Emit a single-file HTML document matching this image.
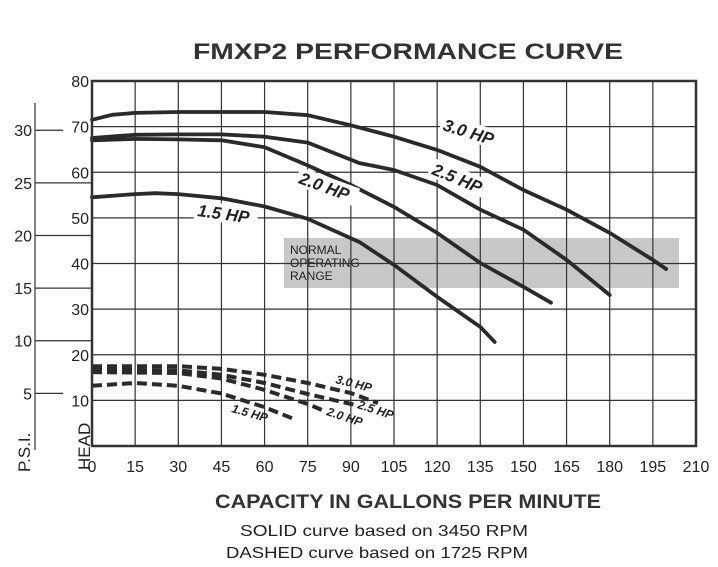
<!DOCTYPE html>
<html><head><meta charset="utf-8"><style>
html,body{margin:0;padding:0;background:#fff;}
svg{display:block;font-family:"Liberation Sans",sans-serif;}
</style></head><body>
<svg id="chart" width="718" height="567" viewBox="0 0 718 567">
<rect width="718" height="567" fill="#fff"/>
<text x="193" y="59" font-size="22" font-weight="bold" fill="#333" textLength="430" lengthAdjust="spacingAndGlyphs">FMXP2 PERFORMANCE CURVE</text>
<g id="grid"></g>
<rect x="284" y="238" width="395" height="50" fill="#c8c8c8"/>
<text font-size="12" fill="#222"><tspan x="290" y="254">NORMAL</tspan><tspan x="290" y="267">OPERATING</tspan><tspan x="290" y="280">RANGE</tspan></text>
<g id="gridlines"></g>
<g id="series"></g>
<g id="labels" font-weight="bold" font-style="italic" fill="#222"></g>
<g id="axes"></g>
<text x="215" y="508" font-size="19" font-weight="bold" fill="#333" textLength="386" lengthAdjust="spacingAndGlyphs">CAPACITY IN GALLONS PER MINUTE</text>
<text x="240" y="536" font-size="16" fill="#222" textLength="288" lengthAdjust="spacingAndGlyphs">SOLID curve based on 3450 RPM</text>
<text x="226" y="558" font-size="16" fill="#222" textLength="302" lengthAdjust="spacingAndGlyphs">DASHED  curve based on 1725 RPM</text>
<text transform="translate(90,470) rotate(-90)" font-size="17" fill="#222">HEAD</text>
<text transform="translate(30,472) rotate(-90)" font-size="17" fill="#222">P.S.I.</text>
</svg>
<script>
const xTicks=[0,15,30,45,60,75,90,105,120,135,150,165,180,195,210];
const yTicks=[10,20,30,40,50,60,70,80];
const psiTicks=[5,10,15,20,25,30];
const gpm30=[0,7,15,30,45,60,75,90,105,120,135,150,165,180,195,199.6];
const head30=[71.5,72.6,73,73.2,73.2,73.2,72.5,70.3,67.8,64.9,61.2,56.1,51.8,46.7,40.8,38.8];
const gpm25=[0,15,30,45,60,75,93,105,120,135,150,165,180];
const head25=[67.5,68.2,68.3,68.3,67.8,66.5,62,60.5,57.2,51.8,47.4,40.8,33.1];
const gpm20=[0,15,30,45,60,75,90,105,120,135,150,159.6];
const head20=[67,67.3,67.2,67,65.5,61.5,57.2,52.4,46.7,40.1,34.9,31.4];
const gpm15=[0,15,22,30,45,60,75,93,105,120,135,140];
const head15=[54.5,55.2,55.4,55.2,54.3,52.5,49.8,44.7,39.7,32.7,26.1,22.8];
const dGpm30=[0,30,45,60,75,90,99.4];
const dHead30=[17.5,17.5,16.9,15.6,13.8,11.6,9.4];
const dGpm25=[0,30,45,60,75,91.5];
const dHead25=[16.7,16.6,15.6,13.8,11.4,9.0];
const dGpm20=[0,30,45,60,75,80];
const dHead20=[16.2,16,14.8,12.3,9.2,7.9];
const dGpm15=[0,15,30,45,60,69.5];
const dHead15=[13.2,13.8,13.2,11.5,8.5,6.1];

const X0=92,X1=696,Y0=446,Y1=81;
const xs=v=>X0+(v/210)*(X1-X0);
const ys=v=>Y0-(v/80)*(Y0-Y1);
const ps=v=>Y0-(v*2.31/80)*(Y0-Y1)+ (v===0?0:0);
const NS='http://www.w3.org/2000/svg';
function mk(tag,attrs,parent){const e=document.createElementNS(NS,tag);for(const k in attrs)e.setAttribute(k,attrs[k]);parent.appendChild(e);return e;}
const gl=document.getElementById('gridlines'),ax=document.getElementById('axes'),se=document.getElementById('series'),lb=document.getElementById('labels');
xTicks.forEach(t=>{
 const l=mk('line',{x1:xs(t),x2:xs(t),y1:Y1,y2:Y0,stroke:'#333','stroke-width':1.2},gl);
 
 
 const tx=mk('text',{x:xs(t),y:472,'font-size':16,'text-anchor':'middle',fill:'#222'},ax);
 tx.textContent=t;
 
 
});
yTicks.forEach(t=>{
 const l=mk('line',{x1:X0,x2:X1,y1:ys(t),y2:ys(t),stroke:'#333','stroke-width':1.2},gl);
 
 
 const tx=mk('text',{x:89,y:ys(t)+6,'font-size':16,'text-anchor':'end',fill:'#222'},ax);
 tx.textContent=t;
 
 
});
const tx0=mk('text',{x:92,y:472,'font-size':16,'text-anchor':'middle',fill:'#222'},ax);
const fr=mk('rect',{x:X0,y:Y1,width:X1-X0,height:Y0-Y1,fill:'none',stroke:'#333','stroke-width':2.5},ax);


const pl=mk('line',{x1:35,x2:35,y1:103,y2:450,stroke:'#333','stroke-width':1.2},ax);


psiTicks.forEach(t=>{
 const y=Y0-(t*2.307/80)*(Y0-Y1);
 const long=(t>=10&&t<=25);
 const l=mk('line',{x1:35,x2:long?X0:63,y1:y,y2:y,stroke:'#333','stroke-width':1.2},ax);
 
 
 const tx=mk('text',{x:32,y:y+6,'font-size':16,'text-anchor':'end',fill:'#222'},ax);
 tx.textContent=t;
 
 
});
function curve(g,h,name,dashed){
 const pts=g.map((v,i)=>xs(v).toFixed(1)+','+ys(h[i]).toFixed(1)).join(' ');
 const p=mk('polyline',{points:pts,fill:'none',stroke:'#2a2a2a','stroke-width':dashed?4:3.8,'stroke-linejoin':'round','stroke-linecap':dashed?'butt':'round'},se);
 if(dashed)p.setAttribute('stroke-dasharray','10 5');
 
 
}
curve(gpm30,head30,'curve-3hp-3450',false);
curve(gpm25,head25,'curve-2-5hp-3450',false);
curve(gpm20,head20,'curve-2hp-3450',false);
curve(gpm15,head15,'curve-1-5hp-3450',false);
curve(dGpm30,dHead30,'curve-3hp-1725',true);
curve(dGpm25,dHead25,'curve-2-5hp-1725',true);
curve(dGpm20,dHead20,'curve-2hp-1725',true);
curve(dGpm15,dHead15,'curve-1-5hp-1725',true);
function label(txt,x,y,rot,size,name,bg){
 const g=mk('g',{transform:`translate(${x},${y}) rotate(${rot})`},lb);
 if(bg)mk('rect',{x:-3,y:-size+1,width:txt.length*size*0.62,height:size+2,fill:'#fff'},g);
 const t=mk('text',{x:0,y:0,'font-size':size},g);
 t.textContent=txt;
 
 
}
label('3.0 HP',442,130,17,17,'label-3hp',true);
label('2.5 HP',431,174,22,17,'label-2-5hp',true);
label('2.0 HP',298,183,20,17,'label-2hp',true);
label('1.5 HP',197,216,8,17,'label-1-5hp',true);
label('3.0 HP',335,383,14,12,'label-3hp-dashed',false);
label('2.5 HP',357,408,18,12,'label-2-5hp-dashed',false);
label('2.0 HP',326,415,18,12,'label-2hp-dashed',false);
label('1.5 HP',231,412,16,12,'label-1-5hp-dashed',false);
</script>
</body></html>
